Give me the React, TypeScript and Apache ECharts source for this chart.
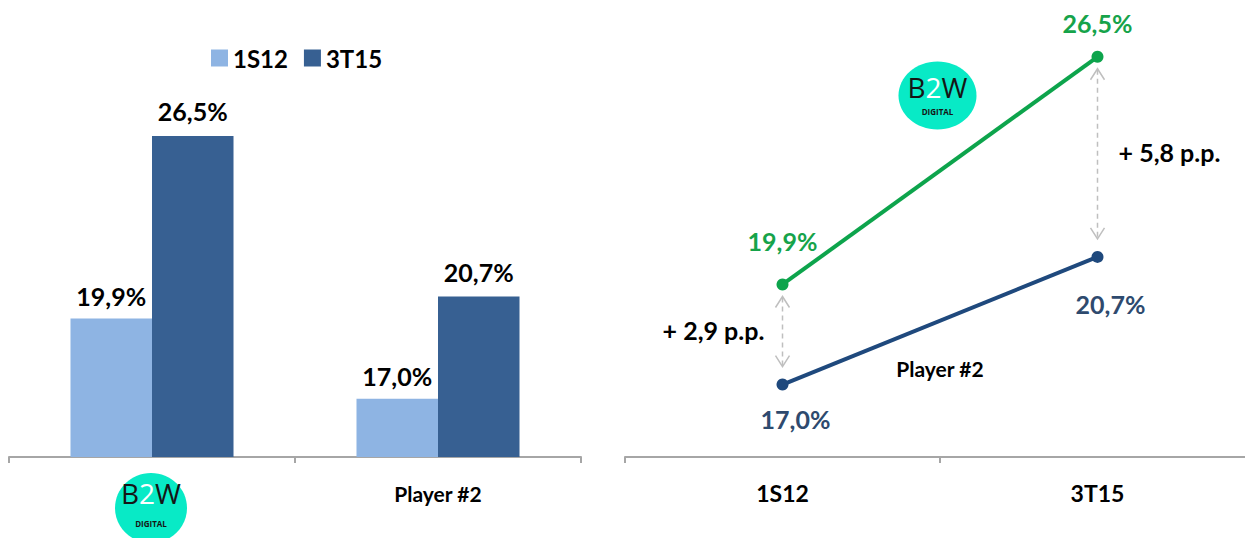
import React, { useEffect, useRef } from "react";
import * as echarts from "echarts";

const barCategories = ["B2W", "Player #2"];
const series1S12 = [19.9, 17.0];
const series3T15 = [26.5, 20.7];
const periods = ["1S12", "3T15"];
const lineB2W = [19.9, 26.5];
const linePlayer2 = [17.0, 20.7];
const gapArrows = [
  [0, 17.0, 19.9],
  [1, 20.7, 26.5],
];

const FONT = "Lato, 'Open Sans', sans-serif";
const fmt = (v: number) => v.toFixed(1).replace(".", ",") + "%";

function logo(cx: number, cy: number, rx: number, ry: number, textDy: number, subDy: number) {
  return {
    type: "group",
    x: cx,
    y: cy,
    children: [
      { type: "ellipse", shape: { cx: 0, cy: 0, rx, ry }, style: { fill: "#08EAC6" } },
      {
        type: "text",
        x: 0,
        y: textDy,
        style: {
          text: "{a|B}{b|2}{a|W}",
          align: "center",
          verticalAlign: "middle",
          rich: {
            a: { fill: "#151515", fontSize: 28, fontFamily: "'Open Sans', sans-serif", fontWeight: 400 },
            b: { fill: "#ffffff", fontSize: 28, fontFamily: "'Open Sans', sans-serif", fontWeight: 400 },
          },
        },
      },
      {
        type: "text",
        x: 0,
        y: textDy + subDy,
        style: {
          text: "DIGITAL",
          align: "center",
          verticalAlign: "middle",
          fill: "#151515",
          fontSize: 8,
          fontWeight: 700,
          fontFamily: "'Open Sans', sans-serif",
        },
      },
    ],
  };
}

export default function App() {
  const ref = useRef<HTMLDivElement>(null);
  useEffect(() => {
    if (!ref.current) return;
    const chart = echarts.init(ref.current, null, { renderer: "svg" });
    const axisLine = { lineStyle: { color: "#A6A6A6", width: 2 } };
    const labelFont = { fontSize: 25, fontWeight: 700, fontFamily: FONT };
    chart.setOption({
      animation: false,
      textStyle: { fontFamily: FONT },
      legend: {
        left: 206,
        top: 41,
        itemWidth: 17,
        itemHeight: 17,
        itemGap: 16,
        icon: "rect",
        data: ["1S12", "3T15"],
        textStyle: { fontSize: 24, fontWeight: 700, color: "#000", fontFamily: FONT },
      },
      grid: [
        { left: 9, width: 572, top: 39, bottom: 81 },
        { left: 625, width: 630, top: 5, bottom: 81 },
      ],
      xAxis: [
        {
          type: "category",
          gridIndex: 0,
          data: barCategories,
          axisLine,
          axisTick: { show: true, length: 6, lineStyle: { color: "#A6A6A6", width: 2 } },
          axisLabel: {
            margin: 26,
            fontSize: 21,
            fontWeight: 700,
            color: "#000",
            formatter: (v: string) => (v === "B2W" ? "" : v),
          },
        },
        {
          type: "category",
          gridIndex: 1,
          data: periods,
          axisLine,
          axisTick: { show: true, length: 6, lineStyle: { color: "#A6A6A6", width: 2 } },
          axisLabel: { margin: 24, fontSize: 23, fontWeight: 700, color: "#000" },
        },
      ],
      yAxis: [
        { type: "value", gridIndex: 0, min: 14.9, max: 30, show: false, splitLine: { show: false } },
        { type: "value", gridIndex: 1, min: 14.9, max: 28, show: false, splitLine: { show: false } },
      ],
      series: [
        {
          name: "1S12",
          type: "bar",
          xAxisIndex: 0,
          yAxisIndex: 0,
          data: series1S12,
          barGap: "0%",
          barCategoryGap: "43%",
          itemStyle: { color: "#8EB4E3" },
          label: {
            show: true,
            position: "top",
            distance: 10,
            ...labelFont,
            color: "#000",
            formatter: (p: any) => fmt(p.value),
          },
        },
        {
          name: "3T15",
          type: "bar",
          xAxisIndex: 0,
          yAxisIndex: 0,
          data: series3T15,
          itemStyle: { color: "#376092" },
          label: {
            show: true,
            position: "top",
            distance: 12,
            ...labelFont,
            color: "#000",
            formatter: (p: any) => fmt(p.value),
          },
        },
        {
          name: "B2W line",
          type: "line",
          xAxisIndex: 1,
          yAxisIndex: 1,
          data: [
            { value: lineB2W[0], label: { distance: 25 } },
            { value: lineB2W[1], label: { distance: 15 } },
          ],
          lineStyle: { color: "#0DA44C", width: 4 },
          itemStyle: { color: "#0DA44C" },
          symbol: "circle",
          symbolSize: 12,
          label: {
            show: true,
            position: "top",
            ...labelFont,
            color: "#16A34A",
            formatter: (p: any) => fmt(p.value),
          },
        },
        {
          name: "Player line",
          type: "line",
          xAxisIndex: 1,
          yAxisIndex: 1,
          data: [
            { value: linePlayer2[0], label: { distance: 16 } },
            { value: linePlayer2[1], label: { distance: 29 } },
          ],
          lineStyle: { color: "#1F497D", width: 4 },
          itemStyle: { color: "#1F497D" },
          symbol: "circle",
          symbolSize: 12,
          label: {
            show: true,
            position: "bottom",
            offset: [13, 0],
            ...labelFont,
            color: "#2E4A6E",
            formatter: (p: any) => fmt(p.value),
          },
        },
        {
          name: "gaps",
          type: "custom",
          xAxisIndex: 1,
          yAxisIndex: 1,
          data: gapArrows,
          renderItem: (params: any, api: any) => {
            const idx = api.value(0);
            const lo = api.value(1);
            const hi = api.value(2);
            const pTop = api.coord([idx, hi]);
            const pBot = api.coord([idx, lo]);
            const x = pTop[0];
            const y1 = pTop[1] + 12;
            const y2 = pBot[1] - 18;
            const c = "#BFBFBF";
            const diff = (hi - lo).toFixed(1).replace(".", ",");
            const leftSide = params.dataIndex === 0;
            return {
              type: "group",
              children: [
                {
                  type: "line",
                  shape: { x1: x, y1: y1 + 1, x2: x, y2: y2 - 1 },
                  style: { stroke: c, lineWidth: 1.5, lineDash: [5, 4] },
                },
                {
                  type: "polyline",
                  shape: { points: [[x - 7, y1 + 11], [x, y1], [x + 7, y1 + 11]] },
                  style: { stroke: c, lineWidth: 1.5, fill: "none" },
                },
                {
                  type: "polyline",
                  shape: { points: [[x - 7, y2 - 11], [x, y2], [x + 7, y2 - 11]] },
                  style: { stroke: c, lineWidth: 1.5, fill: "none" },
                },
                {
                  type: "text",
                  x: leftSide ? x - 69 : x + 72,
                  y: (y1 + y2) / 2 - 2,
                  style: {
                    text: "+ " + diff + " p.p.",
                    align: "center",
                    verticalAlign: "middle",
                    fontSize: 25,
                    fontWeight: 700,
                    fill: "#000",
                    fontFamily: FONT,
                  },
                },
              ],
            };
          },
        },
      ],
      graphic: [
        logo(151, 508, 36, 35, -15, 30),
        logo(937.5, 95.5, 39, 34, -9, 25),
        {
          type: "text",
          x: 940,
          y: 368,
          style: {
            text: "Player #2",
            align: "center",
            verticalAlign: "middle",
            fontSize: 21,
            fontWeight: 700,
            fill: "#000",
            fontFamily: FONT,
          },
        },
      ],
    });
    return () => chart.dispose();
  }, []);
  return (
    <div
      ref={ref}
      style={{ position: "fixed", left: 0, top: 0, width: 1262, height: 538, background: "#fff" }}
    />
  );
}
